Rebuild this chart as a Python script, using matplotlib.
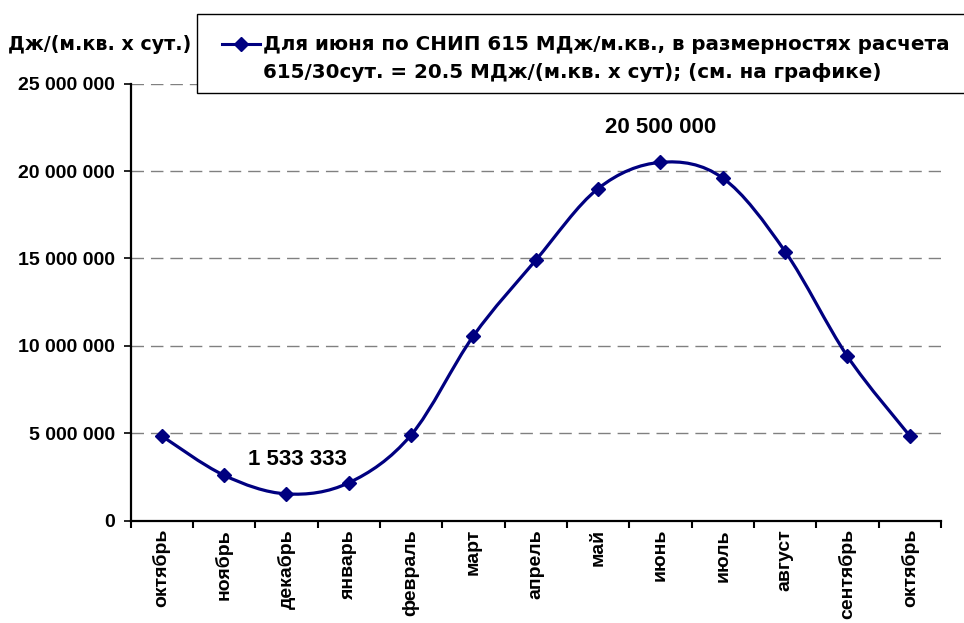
import matplotlib
matplotlib.use("Agg")
import matplotlib.pyplot as plt
from matplotlib.path import Path
from matplotlib.patches import PathPatch, Rectangle
from matplotlib.lines import Line2D
from matplotlib.ticker import FuncFormatter, FixedLocator

plt.rcParams['font.family'] = ['Liberation Sans', 'DejaVu Sans']
plt.rcParams['font.weight'] = 'bold'

# ---- data ----
months = ['октябрь', 'ноябрь', 'декабрь', 'январь', 'февраль', 'март', 'апрель',
          'май', 'июнь', 'июль', 'август', 'сентябрь', 'октябрь']
values = [4850000, 2600000, 1533333.33, 2167000, 4900000, 10570000, 14900000,
          19000000, 20500000, 19600000, 15400000, 9400000, 4850000]
yticks = [0, 5000000, 10000000, 15000000, 20000000, 25000000]
labeled_idx = [2, 8]
legend_line1 = 'Для июня по СНИП 615 МДж/м.кв., в размерностях расчета'
legend_line2 = '615/30сут. = 20.5 МДж/(м.кв. х сут); (см. на графике)'
ylabel = 'Дж/(м.кв. х сут.)'

LINE_COLOR = '#000080'
WIDE_FONT = ['DejaVu Sans']

W, H = 964, 623
fig = plt.figure(figsize=(W / 100, H / 100), dpi=100)
ax = fig.add_axes([130.5 / W, 1 - 520.7 / H, (941 - 130.5) / W, (520.7 - 83.7) / H])

x = list(range(len(values)))

# smooth line (Excel-like Bezier smoothing) through the data points
verts = [(x[0], values[0])]
codes = [Path.MOVETO]
n = len(values)
for i in range(n - 1):
    p0 = (x[max(i - 1, 0)], values[max(i - 1, 0)])
    p1 = (x[i], values[i])
    p2 = (x[i + 1], values[i + 1])
    p3 = (x[min(i + 2, n - 1)], values[min(i + 2, n - 1)])
    c1 = (p1[0] + (p2[0] - p0[0]) / 6, p1[1] + (p2[1] - p0[1]) / 6)
    c2 = (p2[0] - (p3[0] - p1[0]) / 6, p2[1] - (p3[1] - p1[1]) / 6)
    verts += [c1, c2, p2]
    codes += [Path.CURVE4] * 3
ax.add_patch(PathPatch(Path(verts, codes), fill=False, edgecolor=LINE_COLOR,
                       lw=2.3, zorder=3))
ax.plot(x, values, linestyle='none', marker='D', markersize=7,
        color=LINE_COLOR, zorder=4)

ax.set_xlim(-0.5, len(values) - 0.5)
ax.set_ylim(0, 25000000)

# grid
ax.yaxis.set_major_locator(FixedLocator(yticks))
for yv in yticks[1:]:
    ax.axhline(yv, color='#808080', lw=1.0, linestyle=(0, (9, 5)), zorder=1)

ax.yaxis.set_major_formatter(FuncFormatter(lambda v, p: format(int(round(v)), ',').replace(',', ' ')))
ax.tick_params(axis='y', direction='out', length=5, width=1.2, pad=6, labelsize=14)

ax.set_xticks([i + 0.5 for i in range(-1, len(values))])
ax.set_xticklabels([])
ax.set_xticks(x, minor=True)
ax.set_xticklabels(months, minor=True, rotation=90, va='top', ha='center', fontsize=14)
ax.tick_params(axis='x', which='major', direction='out', length=5, width=1.5)
ax.tick_params(axis='x', which='minor', length=0, pad=6)

for s in ['top', 'right']:
    ax.spines[s].set_visible(False)
for s in ['left', 'bottom']:
    ax.spines[s].set_linewidth(1.6)
    ax.spines[s].set_color('black')

# value labels
for i in labeled_idx:
    txt = format(int(round(values[i])), ',').replace(',', ' ')
    dx = 8 if i == 2 else 0
    ax.annotate(txt, xy=(x[i], values[i]), xytext=(dx, 25), textcoords='offset points',
                ha='center', va='center', fontsize=16, fontweight='bold')

# y label
fig.text(8 / W, 1 - 45 / H, ylabel, fontsize=13.7, fontweight='bold', ha='left',
         va='center', family=WIDE_FONT)

# legend box (extends past the right edge of the figure)
box = Rectangle((197 / W, 1 - 93 / H), 800 / W, 79 / H, transform=fig.transFigure,
                facecolor='white', edgecolor='black', lw=1.0, clip_on=False, zorder=9)
ax.add_patch(box)

# legend
h1 = Line2D([], [], color=LINE_COLOR, lw=2.2, marker='D', markersize=7)
h2 = Line2D([], [], color='none')
leg = ax.legend([h1, h2], [legend_line1, legend_line2], loc='upper left',
                bbox_to_anchor=(222 / W, 1 - 35.5 / H), bbox_transform=fig.transFigure,
                borderaxespad=0, handlelength=1.9, handletextpad=0.15,
                borderpad=0, labelspacing=0.41, frameon=False,
                prop={'family': WIDE_FONT, 'weight': 'bold', 'size': 14.3})
leg.set_zorder(10)

fig.savefig('out.png', dpi=100)
